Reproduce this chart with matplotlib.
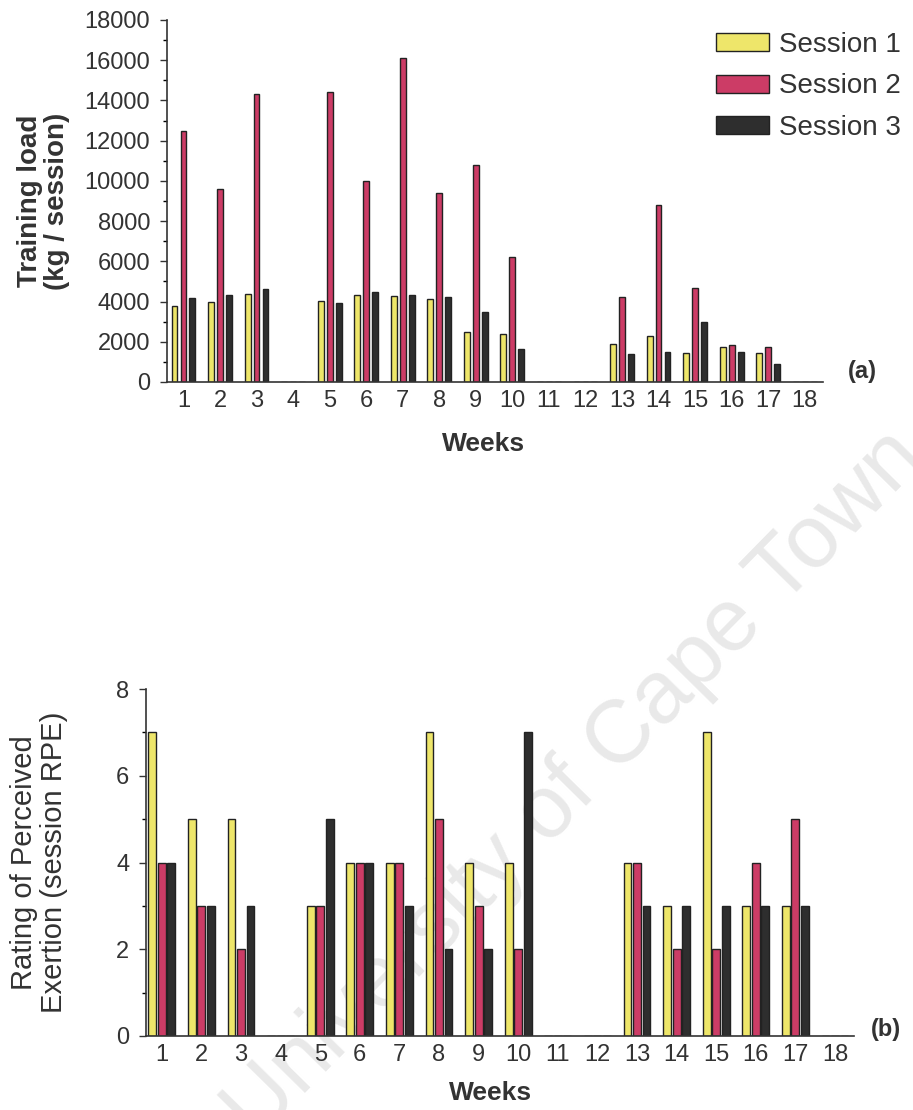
import matplotlib
matplotlib.use("Agg")
import matplotlib.pyplot as plt
from matplotlib.ticker import MultipleLocator
import numpy as np

plt.rcParams['font.family'] = ['Liberation Sans', 'DejaVu Sans']

# ---- data ----
weeks = list(range(1, 19))
load_s1 = [3800, 4000, 4400, 0, 4050, 4350, 4300, 4150, 2500, 2400, 0, 0, 1900, 2300, 1450, 1750, 1450, 0]
load_s2 = [12500, 9600, 14300, 0, 14400, 10000, 16100, 9400, 10800, 6200, 0, 0, 4250, 8800, 4650, 1850, 1750, 0]
load_s3 = [4200, 4350, 4600, 0, 3950, 4500, 4330, 4250, 3500, 1650, 0, 0, 1400, 1500, 3000, 1500, 900, 0]

rpe_s1 = [7, 5, 5, 0, 3, 4, 4, 7, 4, 4, 0, 0, 4, 3, 7, 3, 3, 0]
rpe_s2 = [4, 3, 2, 0, 3, 4, 4, 5, 3, 2, 0, 0, 4, 2, 2, 4, 5, 0]
rpe_s3 = [4, 3, 3, 0, 5, 4, 3, 2, 2, 7, 0, 0, 3, 3, 3, 3, 3, 0]

session_labels = ["Session 1", "Session 2", "Session 3"]
colors = ["#eee66a", "#cc3c66", "#2e2e2e"]

W, H = 913, 1110
fig = plt.figure(figsize=(W / 100, H / 100), dpi=100)

txt = "#333333"

# light diagonal watermark, kept behind the plots
fig.text(575 / W, 1 - 785 / H, "University of Cape Town", fontsize=64,
         color="#e9e9e9", rotation=45.5, ha="center", va="center",
         rotation_mode="anchor", zorder=-1)


def style_axes(ax):
    ax.set_facecolor("none")
    for s in ("top", "right"):
        ax.spines[s].set_visible(False)
    for s in ("left", "bottom"):
        ax.spines[s].set_color("#333333")
        ax.spines[s].set_linewidth(1.2)
    ax.tick_params(axis="x", length=0, pad=6, labelsize=17, colors=txt)
    ax.tick_params(axis="y", which="major", length=5, width=1, direction="out",
                   labelsize=17, colors=txt, pad=7)
    ax.tick_params(axis="y", which="minor", length=3, width=1, direction="out")
    ax.set_xticks(weeks)
    ax.set_xticklabels([str(w) for w in weeks])


def draw_bars(ax, series, offset, width):
    x = np.array(weeks, dtype=float)
    handles = []
    for i, (vals, c, lab) in enumerate(zip(series, colors, session_labels)):
        h = ax.bar(x + (i - 1) * offset, vals, width=width, color=c,
                   edgecolor="#222222", linewidth=1.0, label=lab, zorder=2)
        handles.append(h)
    return handles


# ---- (a) training load ----
ax1 = fig.add_axes([167 / W, 1 - 382 / H, (823 - 167) / W, (382 - 20) / H])
handles = draw_bars(ax1, [load_s1, load_s2, load_s3], 0.245, 0.16)
ax1.set_xlim(0.55, 18.5)
ax1.set_ylim(0, 18000)
ax1.yaxis.set_major_locator(MultipleLocator(2000))
ax1.yaxis.set_minor_locator(MultipleLocator(1000))
style_axes(ax1)
ax1.set_ylabel("Training load\n(kg / session)", fontsize=20, fontweight="bold",
               color=txt, linespacing=1.05)
ax1.yaxis.set_label_coords(-0.148, 0.5)
ax1.set_xlabel("Weeks", fontsize=19, fontweight="bold", color=txt)
ax1.xaxis.set_label_coords(0.482, -0.138)
ax1.text(1.06, 0.03, "(a)", transform=ax1.transAxes, fontsize=17,
         fontweight="bold", color=txt, ha="center", va="center")

fig.legend(handles, session_labels, loc="upper left",
           bbox_to_anchor=(716 / W, 1 - 32 / H), frameon=False, fontsize=20,
           handlelength=1.9, handleheight=0.62, handletextpad=0.35,
           labelspacing=0.55, labelcolor=txt, borderpad=0, borderaxespad=0)

# ---- (b) session RPE ----
ax2 = fig.add_axes([146 / W, 1 - 1036 / H, (854 - 146) / W, (1036 - 689) / H])
draw_bars(ax2, [rpe_s1, rpe_s2, rpe_s3], 0.24, 0.2)
ax2.set_xlim(0.6, 18.48)
ax2.set_ylim(0, 8)
ax2.yaxis.set_major_locator(MultipleLocator(2))
ax2.yaxis.set_minor_locator(MultipleLocator(1))
style_axes(ax2)
ax2.set_ylabel("Rating of Perceived\nExertion (session RPE)", fontsize=21,
               color=txt, linespacing=1.1)
ax2.yaxis.set_label_coords(-0.11, 0.5)
ax2.set_xlabel("Weeks", fontsize=19, fontweight="bold", color=txt)
ax2.xaxis.set_label_coords(0.486, -0.13)
ax2.text(1.045, 0.02, "(b)", transform=ax2.transAxes, fontsize=17,
         fontweight="bold", color=txt, ha="center", va="center")

fig.savefig("out.png", dpi=100)
